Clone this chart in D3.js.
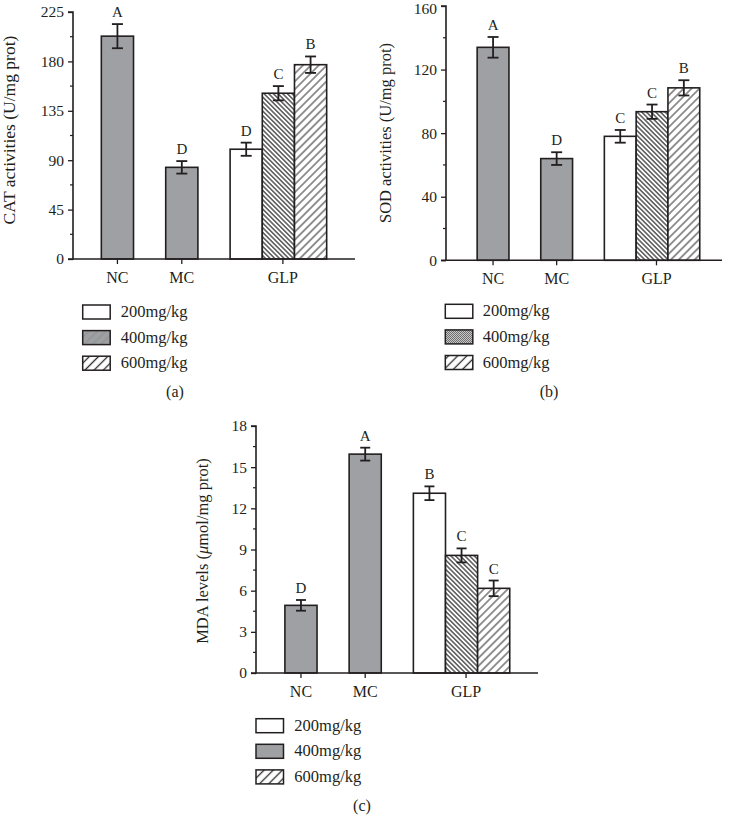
<!DOCTYPE html>
<html><head><meta charset="utf-8">
<script src="https://cdn.jsdelivr.net/npm/d3@7"></script>
<style>
body{margin:0;background:#fff}
svg{display:block}
text{font-family:"Liberation Serif","Times New Roman",serif;fill:#231f20}
</style>
</head><body><div id="chart"></div>
<script>
// ---------- data ----------
const groups = ["NC", "MC", "GLP"];
const doses = ["200mg/kg", "400mg/kg", "600mg/kg"];

const catControl = [203, 83.5];
const catControlErr = [11, 5.7];
const catGLP = [100, 151, 177];
const catGLPErr = [6, 6.5, 7.5];
const catLetters = ["A", "D", "D", "C", "B"];
const catTicks = [0, 45, 90, 135, 180, 225];

const sodControl = [134, 64];
const sodControlErr = [6.5, 4];
const sodGLP = [78, 93.5, 108.5];
const sodGLPErr = [4, 4.5, 4.8];
const sodLetters = ["A", "D", "C", "C", "B"];
const sodTicks = [0, 40, 80, 120, 160];

const mdaControl = [4.93, 15.95];
const mdaControlErr = [0.39, 0.47];
const mdaGLP = [13.1, 8.57, 6.17];
const mdaGLPErr = [0.5, 0.51, 0.57];
const mdaLetters = ["D", "A", "B", "C", "C"];
const mdaTicks = [0, 3, 6, 9, 12, 15, 18];

const panelLabels = ["(a)", "(b)", "(c)"];
const yTitles = ["CAT activities (U/mg prot)", "SOD activities (U/mg prot)", "MDA levels (μmol/mg prot)"];

// ---------- drawing ----------
const W = 730, H = 817;
const svg = d3.select("#chart").append("svg").attr("width", W).attr("height", H);
const defs = svg.append("defs");
const GRAY = "#9fa0a3";
const INK = "#231f20";

function linePattern(id, spacing, angle, color, sw, bg) {
  const p = defs.append("pattern").attr("id", id)
    .attr("patternUnits", "userSpaceOnUse")
    .attr("width", spacing).attr("height", spacing)
    .attr("patternTransform", `rotate(${angle})`);
  p.append("rect").attr("width", spacing).attr("height", spacing).attr("fill", bg);
  p.append("line").attr("x1", spacing / 2).attr("y1", -1).attr("x2", spacing / 2).attr("y2", spacing + 1)
    .attr("stroke", color).attr("stroke-width", sw);
}
linePattern("h400", 3.3, -45, "#2a2a2a", 1.2, "#ffffff");
linePattern("h600", 5.6, 45, "#2a2a2a", 1.0, "#ffffff");
linePattern("leg600", 6.5, 45, "#2a2a2a", 1.3, "#ffffff");
linePattern("legGrayA", 6, 45, "#8e8e90", 1, GRAY);
(function () {
  const p = defs.append("pattern").attr("id", "dotB").attr("patternUnits", "userSpaceOnUse")
    .attr("width", 2).attr("height", 2);
  p.append("rect").attr("width", 2).attr("height", 2).attr("fill", "#c8c8c8");
  p.append("rect").attr("width", 1).attr("height", 1).attr("fill", "#6f6f6f");
  p.append("rect").attr("x", 1).attr("y", 1).attr("width", 1).attr("height", 1).attr("fill", "#6f6f6f");
})();

const doseFill = ["#ffffff", "url(#h400)", "url(#h600)"];

const panels = [
  { control: catControl, controlErr: catControlErr, glp: catGLP, glpErr: catGLPErr, letters: catLetters, ticks: catTicks,
    axisX: 73, axisRight: 355, yTop: 12, yBottom: 259, xDomain: [-0.69, 3.69], minor: 22.5,
    titleX: 15, titleY: 130, titleSize: 17.5, legX: 82.7, legY: 305, legTextX: 120.7, leg400: "url(#legGrayA)",
    capX: 175, capY: 397, capW: 11 },
  { control: sodControl, controlErr: sodControlErr, glp: sodGLP, glpErr: sodGLPErr, letters: sodLetters, ticks: sodTicks,
    axisX: 446, axisRight: 722, yTop: 6, yBottom: 260.3, xDomain: [-0.74, 3.6], minor: 20,
    titleX: 391, titleY: 133, titleSize: 16.5, legX: 445.3, legY: 304.3, legTextX: 482.7, leg400: "url(#dotB)",
    capX: 549, capY: 397, capW: 11 },
  { control: mdaControl, controlErr: mdaControlErr, glp: mdaGLP, glpErr: mdaGLPErr, letters: mdaLetters, ticks: mdaTicks,
    axisX: 256, axisRight: 538, yTop: 426, yBottom: 673, xDomain: [-0.70, 3.69], minor: 1.5,
    titleX: 208, titleY: 551, titleSize: 16.5, legX: 256, legY: 718.7, legTextX: 294.3, leg400: GRAY,
    capX: 362, capY: 811, capW: 10 }
];

const groupPos = { NC: 0, MC: 1, GLP: 2.57 };

panels.forEach((p, pi) => {
  const g = svg.append("g");
  const yMax = p.ticks[p.ticks.length - 1];
  const x = d3.scaleLinear().domain(p.xDomain).range([p.axisX, p.axisRight]);
  const y = d3.scaleLinear().domain([0, yMax]).range([p.yBottom, p.yTop]);
  const bw = x(0.5) - x(0);

  const bars = [
    { pos: 0, v: p.control[0], e: p.controlErr[0], fill: GRAY, letter: p.letters[0] },
    { pos: 1, v: p.control[1], e: p.controlErr[1], fill: GRAY, letter: p.letters[1] }
  ];
  doses.forEach((d, i) => bars.push({ pos: 2 + i * 0.5, v: p.glp[i], e: p.glpErr[i], fill: doseFill[i], letter: p.letters[2 + i] }));

  // bars
  g.selectAll("rect.bar").data(bars).join("rect").attr("class", "bar")
    .attr("x", d => x(d.pos) - bw / 2).attr("width", bw)
    .attr("y", d => y(d.v)).attr("height", d => y(0) - y(d.v))
    .attr("fill", d => d.fill).attr("stroke", INK).attr("stroke-width", 1.6);

  // error bars
  const eb = g.selectAll("g.err").data(bars).join("g").attr("class", "err")
    .attr("stroke", INK).attr("stroke-width", 1.8);
  eb.append("line").attr("x1", d => x(d.pos)).attr("x2", d => x(d.pos))
    .attr("y1", d => y(d.v + d.e)).attr("y2", d => y(d.v - d.e));
  eb.append("line").attr("x1", d => x(d.pos) - p.capW / 2).attr("x2", d => x(d.pos) + p.capW / 2)
    .attr("y1", d => y(d.v + d.e)).attr("y2", d => y(d.v + d.e));
  eb.append("line").attr("x1", d => x(d.pos) - p.capW / 2).attr("x2", d => x(d.pos) + p.capW / 2)
    .attr("y1", d => y(d.v - d.e)).attr("y2", d => y(d.v - d.e));

  // letters
  g.selectAll("text.let").data(bars).join("text").attr("class", "let")
    .attr("x", d => x(d.pos)).attr("y", d => y(d.v + d.e) - 7)
    .attr("text-anchor", "middle").attr("font-size", 15).text(d => d.letter);

  // y axis
  const yAxis = d3.axisLeft(y).tickValues(p.ticks).tickSize(5).tickPadding(4).tickFormat(d3.format("d"));
  const ya = g.append("g").attr("transform", `translate(${p.axisX},0)`).call(yAxis);
  const minorVals = d3.range(p.minor, yMax, p.minor * 2);
  ya.selectAll("line.minor").data(minorVals).join("line").attr("class", "minor")
    .attr("x1", -3).attr("x2", 0).attr("y1", d => y(d)).attr("y2", d => y(d))
    .attr("stroke", INK).attr("stroke-width", 1.2);

  // x axis
  const xa = g.append("g").attr("transform", `translate(0,${p.yBottom})`);
  xa.append("line").attr("x1", p.axisX).attr("x2", p.axisRight).attr("stroke", INK).attr("stroke-width", 1.6);
  xa.selectAll("line.tk").data(groups).join("line").attr("class", "tk")
    .attr("x1", d => x(groupPos[d])).attr("x2", d => x(groupPos[d])).attr("y1", 0).attr("y2", 5)
    .attr("stroke", INK).attr("stroke-width", 1.3);
  xa.selectAll("text").data(groups).join("text")
    .attr("x", d => x(groupPos[d])).attr("y", 24).attr("text-anchor", "middle")
    .attr("font-size", 16).text(d => d);

  ya.select(".domain").attr("stroke", INK).attr("stroke-width", 1.6)
    .attr("d", `M-5,${y(yMax)}H0V${y(0)}H-5`);
  ya.selectAll(".tick line").attr("stroke", INK).attr("stroke-width", 1.3);
  ya.selectAll(".tick text").attr("font-size", 15.5).attr("font-family", "Liberation Serif, serif").attr("fill", INK)
    .attr("dy", d => (y(d) < 12 ? "0.5em" : "0.32em"));

  // y title
  const t = g.append("text")
    .attr("transform", `translate(${p.titleX},${p.titleY}) rotate(-90)`)
    .attr("text-anchor", "middle").attr("font-size", p.titleSize);
  const title = yTitles[pi];
  if (title.includes("μ")) {
    const parts = title.split("μ");
    t.append("tspan").text(parts[0]);
    t.append("tspan").attr("font-style", "italic").text("μ");
    t.append("tspan").text(parts[1]);
  } else t.text(title);

  // legend
  const legFills = ["#ffffff", p.leg400, "url(#leg600)"];
  const lg = g.append("g");
  doses.forEach((d, i) => {
    const yy = p.legY + i * 25.6;
    lg.append("rect").attr("x", p.legX).attr("y", yy).attr("width", 27.5).attr("height", 14)
      .attr("fill", legFills[i]).attr("stroke", INK).attr("stroke-width", 1.5);
    lg.append("text").attr("x", p.legTextX).attr("y", yy + 12).attr("font-size", 16.5).text(d);
  });

  // caption
  g.append("text").attr("x", p.capX).attr("y", p.capY).attr("text-anchor", "middle")
    .attr("font-size", 16).text(panelLabels[pi]);
});
</script>
</body></html>
